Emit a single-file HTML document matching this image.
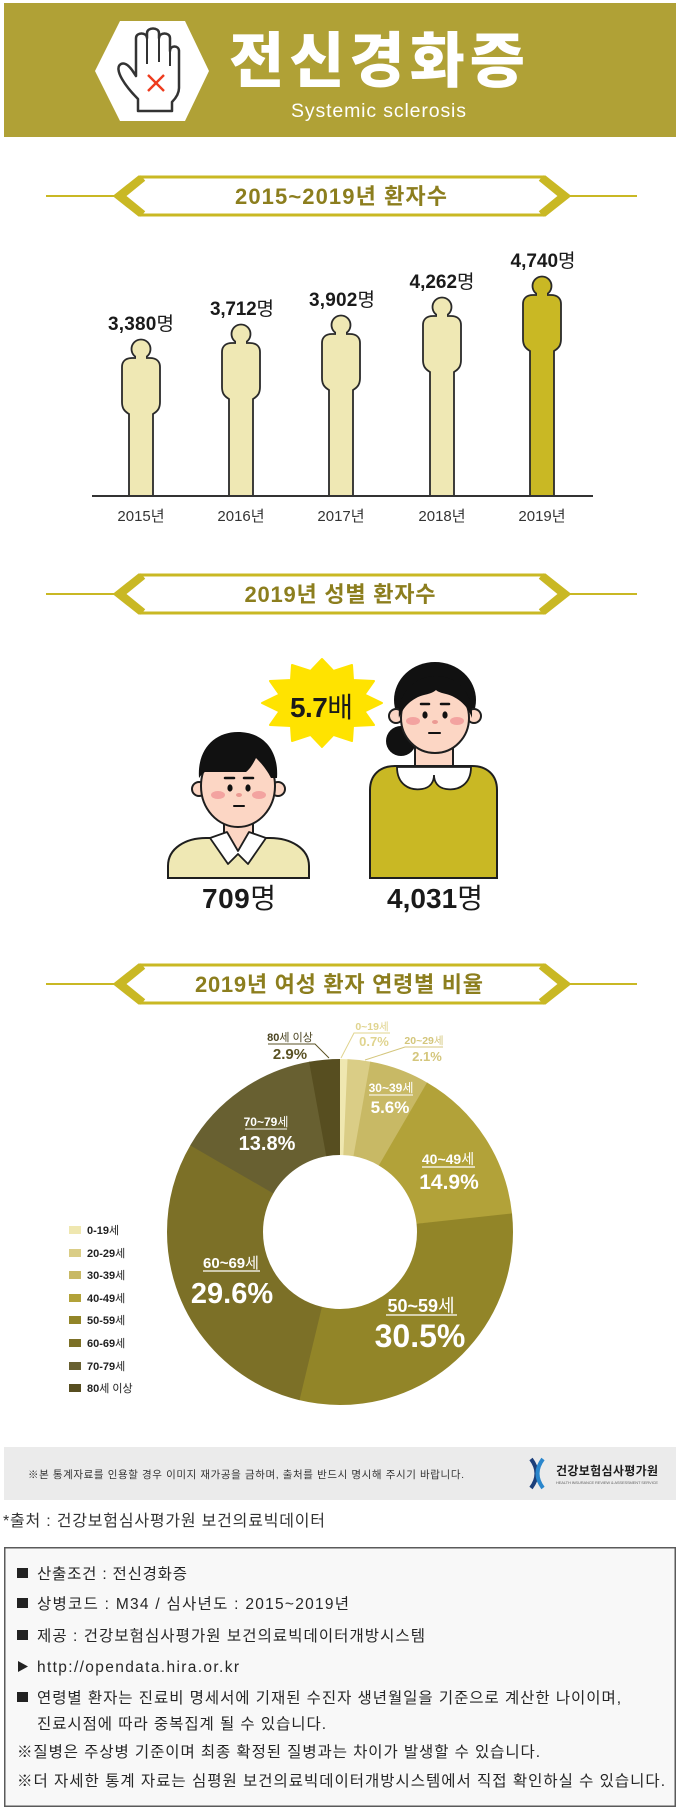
<!DOCTYPE html>
<html><head><meta charset="utf-8"><style>html,body{margin:0;padding:0;background:#fff}svg{display:block}</style></head><body>
<svg width="680" height="1814" viewBox="0 0 680 1814" xmlns="http://www.w3.org/2000/svg" font-family="'Liberation Sans','Noto Sans CJK KR',sans-serif">
<rect width="680" height="1814" fill="#fff"/>
<!-- HEADER -->
<rect x="4" y="3" width="672" height="134" fill="#b0a136"/>
<polygon points="95,71 120,21 185,21 209,71 185,121 120,121" fill="#fff"/>
<path d="M138 111 V99 C133 94 126 86 122 79 C118 72 117 66 121 64 C125 62 129 66 132 70 L136 76 V38 C136 32 147 32 147 38 V33 C147 27 159 27 159 33 V38 C159 32 170 32 170 38 V51 C170 45 179 45 179 51 V88 C179 95 174 100 172 102 V111 Z" fill="#fff" stroke="#333" stroke-width="2.5" stroke-linejoin="round"/>
<g stroke="#333" stroke-width="2"><line x1="147" y1="38" x2="147" y2="64"/><line x1="159" y1="36" x2="159" y2="62"/><line x1="170" y1="50" x2="170" y2="66"/></g>
<g stroke="#ee3b1d" stroke-width="2.4"><line x1="148" y1="75" x2="164" y2="91"/><line x1="164" y1="75" x2="148" y2="91"/></g>
<text x="377" y="82" font-size="60" font-weight="900" fill="#fff" text-anchor="middle" textLength="296" font-family="'Noto Sans CJK KR',sans-serif">전신경화증</text>
<text x="378.5" y="117" font-size="19.5" fill="#fff" text-anchor="middle" textLength="175">Systemic sclerosis</text>

<!-- BANNER 1 -->
<g fill="none" stroke="#c9b824">
<line x1="46" y1="196" x2="115" y2="196" stroke-width="2"/><line x1="569" y1="196" x2="637" y2="196" stroke-width="2"/>
<polygon points="115,196 139,177 545,177 569,196 545,215 139,215" stroke-width="3"/>
<polyline points="143,178 121,196 143,214" stroke-width="7"/><polyline points="541,178 563,196 541,214" stroke-width="7"/>
</g>
<text x="341" y="204" font-size="22" font-weight="700" fill="#8c7e1e" text-anchor="middle" textLength="212">2015~2019년 환자수</text>

<!-- FIGURES -->
<g stroke="#2a2a2a" stroke-width="1.8" fill="#efe8b4">
<g transform="translate(141,358)"><circle cx="0" cy="-9" r="9.5"/><path d="M-12 138 V56 c-5 -3 -7 -6 -7 -12 V9 c0 -6 4 -9 10 -9 h18 c6 0 10 3 10 9 V44 c0 6 -2 9 -7 12 V138"/><rect x="-5" y="-2.5" width="10" height="4" stroke="none"/></g>
<g transform="translate(241,343)"><circle cx="0" cy="-9" r="9.5"/><path d="M-12 153 V56 c-5 -3 -7 -6 -7 -12 V9 c0 -6 4 -9 10 -9 h18 c6 0 10 3 10 9 V44 c0 6 -2 9 -7 12 V153"/><rect x="-5" y="-2.5" width="10" height="4" stroke="none"/></g>
<g transform="translate(341,334)"><circle cx="0" cy="-9" r="9.5"/><path d="M-12 162 V56 c-5 -3 -7 -6 -7 -12 V9 c0 -6 4 -9 10 -9 h18 c6 0 10 3 10 9 V44 c0 6 -2 9 -7 12 V162"/><rect x="-5" y="-2.5" width="10" height="4" stroke="none"/></g>
<g transform="translate(442,316)"><circle cx="0" cy="-9" r="9.5"/><path d="M-12 180 V56 c-5 -3 -7 -6 -7 -12 V9 c0 -6 4 -9 10 -9 h18 c6 0 10 3 10 9 V44 c0 6 -2 9 -7 12 V180"/><rect x="-5" y="-2.5" width="10" height="4" stroke="none"/></g>
<g transform="translate(542,295)" fill="#c9b824"><circle cx="0" cy="-9" r="9.5"/><path d="M-12 201 V56 c-5 -3 -7 -6 -7 -12 V9 c0 -6 4 -9 10 -9 h18 c6 0 10 3 10 9 V44 c0 6 -2 9 -7 12 V201"/><rect x="-5" y="-2.5" width="10" height="4" stroke="none"/></g>
</g>
<line x1="92" y1="496" x2="593" y2="496" stroke="#333" stroke-width="2"/>
<g font-size="19" font-weight="700" fill="#1a1a1a" text-anchor="middle">
<text x="141" y="330" textLength="66">3,380<tspan font-weight="400">명</tspan></text>
<text x="242" y="315" textLength="64">3,712<tspan font-weight="400">명</tspan></text>
<text x="342" y="306" textLength="66">3,902<tspan font-weight="400">명</tspan></text>
<text x="442" y="288" textLength="65">4,262<tspan font-weight="400">명</tspan></text>
<text x="543" y="267" textLength="65">4,740<tspan font-weight="400">명</tspan></text>
</g>
<g font-size="15" fill="#333" text-anchor="middle">
<text x="141" y="521">2015년</text><text x="241" y="521">2016년</text><text x="341" y="521">2017년</text><text x="442" y="521">2018년</text><text x="542" y="521">2019년</text>
</g>

<!-- BANNER 2 -->
<g fill="none" stroke="#c9b824">
<line x1="46" y1="594" x2="115" y2="594" stroke-width="2"/><line x1="569" y1="594" x2="637" y2="594" stroke-width="2"/>
<polygon points="115,594 139,575 545,575 569,594 545,613 139,613" stroke-width="3"/>
<polyline points="143,576 121,594 143,612" stroke-width="7"/><polyline points="541,576 563,594 541,612" stroke-width="7"/>
</g>
<text x="340" y="602" font-size="22" font-weight="700" fill="#8c7e1e" text-anchor="middle" textLength="191">2019년 성별 환자수</text>

<!-- STARBURST -->
<polygon points="382,703 364.5,711.5 374,725 353,726 352,741 333.4,734.9 322,747 310.6,734.9 292,741 291,726 270,725 279.5,711.5 262,703 279.5,694.5 270,681 291,680 292,665 310.6,671 322,659 333.4,671 352,665 353,680 374,681 364.5,694.5" fill="#ffe300" stroke="#ffe300" stroke-width="2" stroke-linejoin="round"/>
<text x="321.5" y="717" font-size="28" font-weight="700" fill="#1a1a1a" text-anchor="middle" textLength="63">5.7<tspan font-weight="400">배</tspan></text>

<!-- BOY -->
<g stroke="#1e1e1e" stroke-width="2">
<path d="M168 878 V866 C168 848 186 838 206 838 H270 C290 838 309 848 309 866 V878 Z" fill="#efe8b4"/>
<rect x="224" y="810" width="29" height="42" fill="#fcd6c4"/>
<path d="M210 838 L227 832 L238 851 L249 832 L266 838 L248 864 L238 854 L228 864 Z" fill="#fff" stroke-width="1.8" stroke-linejoin="round"/>
<circle cx="199" cy="789" r="7" fill="#fcd6c4"/><circle cx="278" cy="789" r="7" fill="#fcd6c4"/>
<ellipse cx="238" cy="786" rx="37" ry="41" fill="#fcd6c4"/>
</g>
<path d="M199 778 C197 750 214 732 238 732 C263 732 279 750 277 778 L271 778 C267 770 262 764 256 758 C253 764 250 769 246 772 L205 772 C203 773 201 775 199 778 Z" fill="#111"/>
<g stroke="#111" stroke-width="2.5" stroke-linecap="round"><line x1="225" y1="778" x2="234" y2="778"/><line x1="244" y1="778" x2="253" y2="778"/><line x1="234" y1="806" x2="244" y2="806" stroke-width="2"/></g>
<ellipse cx="230" cy="788" rx="2.6" ry="3.6" fill="#111"/><ellipse cx="248" cy="788" rx="2.6" ry="3.6" fill="#111"/>
<ellipse cx="218" cy="795" rx="7" ry="4" fill="#f3a3a0"/><ellipse cx="259" cy="795" rx="7" ry="4" fill="#f3a3a0"/>
<ellipse cx="239" cy="795" rx="3" ry="2" fill="#eb9a93"/>

<!-- GIRL -->
<g stroke="#1e1e1e" stroke-width="2">
<rect x="415" y="738" width="38" height="34" fill="#fcd6c4"/>
<path d="M370 878 V790 C370 775 380 766 395 766 H472 C487 766 497 775 497 790 V878 Z" fill="#c9b824"/>
<path d="M397 767 C397 784 409 791 422 789 C430 788 434 782 434 775 C434 782 438 788 446 789 C459 791 471 784 471 767 Z" fill="#fff" stroke-width="1.8"/>
</g>
<circle cx="401" cy="741" r="15" fill="#111"/>
<ellipse cx="435" cy="700" rx="41" ry="38" fill="#111"/>
<g stroke="#1e1e1e" stroke-width="2" fill="#fcd6c4">
<circle cx="396" cy="716" r="7"/><circle cx="474" cy="716" r="7"/>
<ellipse cx="435" cy="718" rx="34" ry="35"/>
</g>
<path d="M399 718 C397 694 414 676 436 676 C458 676 474 694 472 718 C468 706 458 697 446 694 C442 693 438 692 436 690 C433 693 428 694 424 695 C412 698 403 707 399 718 Z" fill="#111"/>
<g stroke="#111" stroke-width="2.5" stroke-linecap="round"><line x1="421" y1="704" x2="429" y2="704"/><line x1="441" y1="704" x2="449" y2="704"/><line x1="429" y1="733" x2="440" y2="733" stroke-width="2"/></g>
<ellipse cx="425" cy="715" rx="2.6" ry="3.6" fill="#111"/><ellipse cx="445" cy="715" rx="2.6" ry="3.6" fill="#111"/>
<ellipse cx="413" cy="721" rx="7" ry="4" fill="#f3a3a0"/><ellipse cx="457" cy="721" rx="7" ry="4" fill="#f3a3a0"/>
<ellipse cx="435" cy="722" rx="3" ry="2" fill="#eb9a93"/>

<g font-size="28" font-weight="700" fill="#1a1a1a" text-anchor="middle">
<text x="239" y="908" textLength="74">709<tspan font-weight="400">명</tspan></text>
<text x="435" y="908" textLength="96">4,031<tspan font-weight="400">명</tspan></text>
</g>

<!-- BANNER 3 -->
<g fill="none" stroke="#c9b824">
<line x1="46" y1="984" x2="115" y2="984" stroke-width="2"/><line x1="569" y1="984" x2="637" y2="984" stroke-width="2"/>
<polygon points="115,984 139,965 545,965 569,984 545,1003 139,1003" stroke-width="3"/>
<polyline points="143,966 121,984 143,1002" stroke-width="7"/><polyline points="541,966 563,984 541,1002" stroke-width="7"/>
</g>
<text x="339" y="992" font-size="22" font-weight="700" fill="#8c7e1e" text-anchor="middle" textLength="288">2019년 여성 환자 연령별 비율</text>

<!-- DONUT -->
<g transform="rotate(-90 340 1232)" fill="none" stroke-width="96">
<circle cx="340" cy="1232" r="125" stroke="#efe7b0" stroke-dasharray="6 1000" stroke-dashoffset="0"/>
<circle cx="340" cy="1232" r="125" stroke="#dacd86" stroke-dasharray="17 1000" stroke-dashoffset="-5.49"/>
<circle cx="340" cy="1232" r="125" stroke="#c8b965" stroke-dasharray="44.4 1000" stroke-dashoffset="-21.97"/>
<circle cx="340" cy="1232" r="125" stroke="#b2a239" stroke-dasharray="117.4 1000" stroke-dashoffset="-65.91"/>
<circle cx="340" cy="1232" r="125" stroke="#928528" stroke-dasharray="239.8 1000" stroke-dashoffset="-182.82"/>
<circle cx="340" cy="1232" r="125" stroke="#7c7027" stroke-dasharray="232.7 1000" stroke-dashoffset="-422.12"/>
<circle cx="340" cy="1232" r="125" stroke="#686031" stroke-dasharray="108.8 1000" stroke-dashoffset="-654.37"/>
<circle cx="340" cy="1232" r="125" stroke="#574e20" stroke-dasharray="22.76 1000" stroke-dashoffset="-762.64"/>
</g>
<!-- donut labels -->
<g fill="#fff" font-weight="700" text-anchor="middle">
<text x="421" y="1312" font-size="18">50~59<tspan font-weight="400">세</tspan></text>
<line x1="386" y1="1315" x2="457" y2="1315" stroke="#fff" stroke-width="1.2"/>
<text x="420" y="1347" font-size="32">30.5%</text>
<text x="231" y="1268" font-size="15">60~69<tspan font-weight="400">세</tspan></text>
<line x1="203" y1="1271" x2="260" y2="1271" stroke="#fff" stroke-width="1.2"/>
<text x="232" y="1303" font-size="29">29.6%</text>
<text x="448" y="1164" font-size="14">40~49<tspan font-weight="400">세</tspan></text>
<line x1="422" y1="1167" x2="475" y2="1167" stroke="#fff" stroke-width="1.2"/>
<text x="449" y="1189" font-size="21">14.9%</text>
<text x="266" y="1126" font-size="12">70~79<tspan font-weight="400">세</tspan></text>
<line x1="245" y1="1129" x2="287" y2="1129" stroke="#fff" stroke-width="1"/>
<text x="267" y="1150" font-size="20">13.8%</text>
<text x="391" y="1092" font-size="12">30~39<tspan font-weight="400">세</tspan></text>
<line x1="369" y1="1095" x2="413" y2="1095" stroke="#fff" stroke-width="1"/>
<text x="390" y="1113" font-size="17">5.6%</text>
</g>
<g font-weight="700" text-anchor="middle">
<text x="290" y="1041" font-size="11" fill="#4a4320">80<tspan font-weight="400">세 이상</tspan></text>
<text x="290" y="1059" font-size="15" fill="#5a5224">2.9%</text>
<text x="372" y="1030" font-size="10.5" fill="#e0d48f">0~19<tspan font-weight="400">세</tspan></text>
<text x="374" y="1046" font-size="13" fill="#e0d48f">0.7%</text>
<text x="424" y="1044" font-size="10.5" fill="#d4c67c">20~29<tspan font-weight="400">세</tspan></text>
<text x="427" y="1061" font-size="13" fill="#d4c67c">2.1%</text>
</g>
<polyline points="268,1044 315,1044 329,1058" fill="none" stroke="#5a5224" stroke-width="1"/>
<polyline points="341,1058 354,1033 390,1033" fill="none" stroke="#e0d48f" stroke-width="1"/>
<polyline points="365,1060 405,1047 443,1047" fill="none" stroke="#d4c67c" stroke-width="1"/>

<!-- LEGEND -->
<g>
<rect x="69" y="1226" width="12" height="8" fill="#efe7b0"/>
<rect x="69" y="1249" width="12" height="8" fill="#dacd86"/>
<rect x="69" y="1271" width="12" height="8" fill="#c8b965"/>
<rect x="69" y="1294" width="12" height="8" fill="#b2a239"/>
<rect x="69" y="1316" width="12" height="8" fill="#928528"/>
<rect x="69" y="1339" width="12" height="8" fill="#7c7027"/>
<rect x="69" y="1362" width="12" height="8" fill="#686031"/>
<rect x="69" y="1384" width="12" height="8" fill="#574e20"/>
</g>
<g font-size="11" font-weight="700" fill="#222">
<text x="87" y="1234">0-19<tspan font-weight="400">세</tspan></text>
<text x="87" y="1257">20-29<tspan font-weight="400">세</tspan></text>
<text x="87" y="1279">30-39<tspan font-weight="400">세</tspan></text>
<text x="87" y="1302">40-49<tspan font-weight="400">세</tspan></text>
<text x="87" y="1324">50-59<tspan font-weight="400">세</tspan></text>
<text x="87" y="1347">60-69<tspan font-weight="400">세</tspan></text>
<text x="87" y="1370">70-79<tspan font-weight="400">세</tspan></text>
<text x="87" y="1392">80<tspan font-weight="400">세 이상</tspan></text>
</g>

<!-- FOOTER NOTE -->
<rect x="4" y="1447" width="672" height="53" fill="#ebebeb"/>
<text x="28" y="1478" font-size="10.5" fill="#333" textLength="436">※본 통계자료를 인용할 경우 이미지 재가공을 금하며, 출처를 반드시 명시해 주시기 바랍니다.</text>
<path d="M531 1459 Q542 1473.5 531 1488" fill="none" stroke="#1c3f7a" stroke-width="4"/>
<path d="M543 1459 Q532 1473.5 543 1488" fill="none" stroke="#2a86cc" stroke-width="4"/>
<text x="556" y="1475" font-size="12" font-weight="700" fill="#1a1a1a" textLength="102">건강보험심사평가원</text>
<text x="556" y="1484" font-size="4" fill="#666" textLength="102">HEALTH INSURANCE REVIEW &amp; ASSESSMENT SERVICE</text>

<text x="3" y="1526" font-size="16" fill="#333" textLength="322">*출처 : 건강보험심사평가원 보건의료빅데이터</text>

<!-- BOTTOM BOX -->
<rect x="4.75" y="1547.75" width="670.5" height="258.5" fill="#f8f8f8" stroke="#5a5a5a" stroke-width="1.5"/>
<g fill="#222">
<rect x="17" y="1568" width="11" height="10"/>
<rect x="17" y="1598" width="11" height="10"/>
<rect x="17" y="1630" width="11" height="10"/>
<polygon points="18,1661 28,1666.5 18,1672"/>
<rect x="17" y="1692" width="11" height="10"/>
</g>
<g font-size="15.5" fill="#262626">
<text x="37" y="1579" textLength="150">산출조건 : 전신경화증</text>
<text x="37" y="1609" textLength="312">상병코드 : M34 / 심사년도 : 2015~2019년</text>
<text x="37" y="1641" textLength="388">제공 : 건강보험심사평가원 보건의료빅데이터개방시스템</text>
<text x="37" y="1672" textLength="202">http://opendata.hira.or.kr</text>
<text x="37" y="1703" textLength="584">연령별 환자는 진료비 명세서에 기재된 수진자 생년월일을 기준으로 계산한 나이이며,</text>
<text x="37" y="1729" textLength="289">진료시점에 따라 중복집계 될 수 있습니다.</text>
<text x="17" y="1757" textLength="523">※질병은 주상병 기준이며 최종 확정된 질병과는 차이가 발생할 수 있습니다.</text>
<text x="17" y="1786" textLength="648">※더 자세한 통계 자료는 심평원 보건의료빅데이터개방시스템에서 직접 확인하실 수 있습니다.</text>
</g>
</svg>
</body></html>
